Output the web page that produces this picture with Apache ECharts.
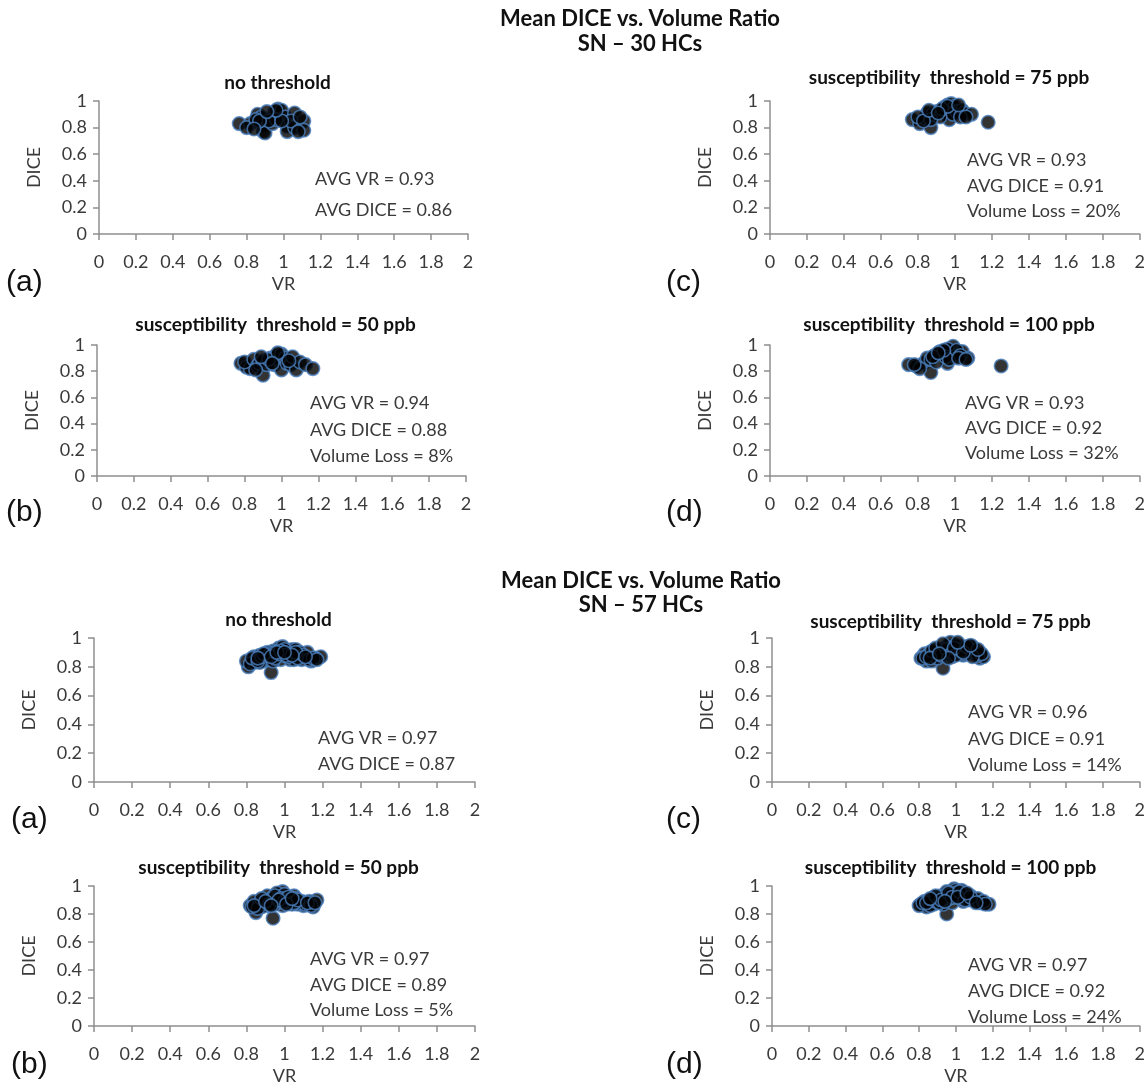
<!DOCTYPE html>
<html>
<head>
<meta charset="utf-8">
<script src="https://cdn.jsdelivr.net/npm/echarts@6/dist/echarts.min.js"></script>
<style>
html,body{margin:0;padding:0;background:#fff;}
#chart{width:1148px;height:1086px;}
</style>
</head>
<body>
<div id="chart"></div>
<script>
// ---------- DATA ----------
const headerLines30 = ["Mean DICE vs. Volume Ratio", "SN \u2013 30 HCs"];
const headerLines57 = ["Mean DICE vs. Volume Ratio", "SN \u2013 57 HCs"];
const panelTitles = ["no threshold", "susceptibility  threshold = 50 ppb", "susceptibility  threshold = 75 ppb", "susceptibility  threshold = 100 ppb"];
const panelLetters = ["(a)", "(b)", "(c)", "(d)"];
const xTickLabels = ["0","0.2","0.4","0.6","0.8","1","1.2","1.4","1.6","1.8","2"];
const yTickLabels = ["0","0.2","0.4","0.6","0.8","1"];

// SN - 30 HCs
const vr30_none = [0.76,0.82,0.80,0.86,0.88,0.89,0.89,0.90,0.94,0.95,0.97,0.99,1.01,1.02,1.02,1.06,1.06,1.11,1.11,1.04,0.96,0.92,0.85,0.87,0.99,1.09,0.84,0.96,1.08,0.91];
const dice30_none = [0.83,0.83,0.80,0.90,0.88,0.82,0.77,0.76,0.83,0.91,0.94,0.93,0.88,0.81,0.77,0.91,0.80,0.85,0.78,0.85,0.86,0.85,0.86,0.85,0.85,0.88,0.79,0.93,0.77,0.92];
const vr30_50 = [0.78,0.81,0.83,0.80,0.85,0.87,0.88,0.90,0.90,0.92,0.94,0.96,0.97,0.99,1.00,1.00,1.02,1.03,1.05,1.06,1.08,1.10,1.13,1.17,0.86,0.93,0.98,1.04,0.89,0.95];
const dice30_50 = [0.86,0.83,0.82,0.87,0.89,0.84,0.86,0.77,0.88,0.85,0.90,0.85,0.92,0.88,0.93,0.81,0.90,0.86,0.85,0.91,0.81,0.87,0.85,0.82,0.81,0.89,0.94,0.88,0.91,0.86];
const vr30_75 = [0.77,0.81,0.84,0.87,0.85,0.90,0.94,0.96,0.98,1.00,0.96,0.97,1.01,1.04,1.05,1.09,1.18,0.88,0.92,0.80,0.93,0.99,1.03,0.87,0.83,0.96,1.02,0.86,1.06,0.91];
const dice30_75 = [0.86,0.83,0.87,0.80,0.91,0.92,0.95,0.97,0.98,0.96,0.91,0.86,0.92,0.93,0.91,0.90,0.84,0.90,0.88,0.88,0.94,0.90,0.88,0.86,0.85,0.96,0.97,0.93,0.88,0.91];
const vr30_100 = [0.75,0.79,0.83,0.87,0.89,0.85,0.94,0.96,0.98,0.99,1.02,1.04,1.07,1.25,0.87,0.92,0.96,1.00,0.81,0.90,0.95,0.97,1.01,1.03,0.88,0.78,1.02,0.94,0.91,1.06];
const dice30_100 = [0.85,0.84,0.86,0.79,0.92,0.90,0.92,0.86,0.96,0.99,0.94,0.95,0.90,0.84,0.89,0.95,0.97,0.91,0.82,0.87,0.91,0.89,0.96,0.92,0.91,0.85,0.90,0.96,0.94,0.89];

// SN - 57 HCs
const vr57_none = [0.81,0.80,0.84,0.87,0.89,0.93,0.92,0.96,0.97,0.98,1.01,1.04,1.05,1.09,1.12,1.14,1.19,0.94,0.91,0.85,1.06,0.99,1.03,1.16,0.84,1.05,1.08,0.94,0.87,0.99,0.95,
  0.82,0.83,0.86,0.88,0.90,0.92,0.95,0.97,1.00,1.02,1.03,1.07,1.10,1.13,1.15,1.17,0.89,0.93,0.98,1.01,1.06,1.11,0.86,0.96,1.04,1.00];
const dice57_none = [0.80,0.84,0.87,0.88,0.84,0.76,0.85,0.88,0.93,0.85,0.91,0.92,0.88,0.85,0.90,0.84,0.87,0.91,0.90,0.85,0.92,0.94,0.85,0.86,0.83,0.85,0.90,0.84,0.83,0.88,0.86,
  0.82,0.86,0.84,0.87,0.89,0.88,0.90,0.89,0.92,0.87,0.89,0.86,0.88,0.85,0.86,0.85,0.89,0.87,0.91,0.88,0.90,0.87,0.86,0.90,0.88,0.90];
const vr57_50 = [0.82,0.85,0.86,0.91,0.91,0.94,0.94,0.99,0.99,0.99,1.05,1.02,1.09,1.10,1.15,1.17,0.88,0.96,1.03,0.84,1.07,0.96,
  0.83,0.87,0.89,0.90,0.92,0.93,0.95,0.97,0.98,1.00,1.01,1.03,1.04,1.06,1.08,1.11,1.13,1.14,0.86,0.88,0.92,0.95,0.98,1.00,1.02,1.05,1.07,1.12,0.84,0.90,0.97,1.01,1.04,0.93,1.16];
const dice57_50 = [0.86,0.81,0.88,0.86,0.93,0.77,0.92,0.90,0.86,0.96,0.93,0.89,0.89,0.86,0.85,0.90,0.85,0.88,0.92,0.89,0.87,0.95,
  0.85,0.87,0.90,0.88,0.89,0.91,0.87,0.92,0.89,0.94,0.88,0.90,0.87,0.91,0.88,0.87,0.89,0.86,0.84,0.91,0.87,0.93,0.91,0.89,0.92,0.88,0.90,0.88,0.86,0.89,0.90,0.87,0.91,0.86,0.88];
const vr57_75 = [0.83,0.84,0.89,0.93,0.92,0.98,0.99,1.03,1.09,1.13,1.04,0.95,0.90,0.81,1.00,1.06,1.10,1.15,0.87,0.97,
  0.82,0.85,0.86,0.88,0.90,0.91,0.94,0.96,0.97,1.00,1.01,1.02,1.05,1.07,1.08,1.11,1.12,1.14,0.84,0.87,0.89,0.92,0.95,0.98,1.00,1.03,1.06,1.09,1.12,0.86,0.93,0.99,1.04,1.08,0.96,1.01,0.91];
const dice57_75 = [0.89,0.84,0.87,0.79,0.92,0.87,0.95,0.94,0.94,0.86,0.88,0.94,0.92,0.86,0.92,0.91,0.89,0.87,0.84,0.97,
  0.86,0.88,0.90,0.88,0.86,0.90,0.91,0.89,0.93,0.95,0.90,0.92,0.89,0.93,0.91,0.90,0.88,0.89,0.87,0.91,0.93,0.88,0.92,0.90,0.88,0.91,0.94,0.87,0.92,0.86,0.96,0.93,0.90,0.95,0.86,0.97,0.89];
const vr57_100 = [0.81,0.84,0.88,0.95,0.92,0.98,0.99,1.02,1.03,1.08,1.14,1.18,0.88,0.93,1.04,1.10,0.83,0.95,1.00,
  0.80,0.82,0.85,0.86,0.87,0.89,0.90,0.91,0.93,0.94,0.96,0.97,0.99,1.00,1.01,1.03,1.05,1.06,1.07,1.09,1.11,1.12,1.13,1.15,1.16,0.84,0.89,0.92,0.96,0.98,1.02,1.05,1.08,1.11,0.86,0.94,1.01,1.06];
const dice57_100 = [0.87,0.85,0.87,0.80,0.93,0.88,0.98,0.94,0.97,0.93,0.88,0.87,0.92,0.87,0.89,0.90,0.89,0.96,0.97,
  0.86,0.88,0.89,0.86,0.90,0.89,0.91,0.88,0.90,0.93,0.91,0.94,0.92,0.95,0.93,0.91,0.94,0.92,0.90,0.91,0.89,0.91,0.88,0.89,0.87,0.88,0.93,0.90,0.95,0.92,0.96,0.90,0.92,0.88,0.91,0.89,0.92,0.95];

// annotation texts
const notes30_none = ["AVG VR = 0.93", "AVG DICE = 0.86"];
const notes30_50 = ["AVG VR = 0.94", "AVG DICE = 0.88", "Volume Loss = 8%"];
const notes30_75 = ["AVG VR = 0.93", "AVG DICE = 0.91", "Volume Loss = 20%"];
const notes30_100 = ["AVG VR = 0.93", "AVG DICE = 0.92", "Volume Loss = 32%"];
const notes57_none = ["AVG VR = 0.97", "AVG DICE = 0.87"];
const notes57_50 = ["AVG VR = 0.97", "AVG DICE = 0.89", "Volume Loss = 5%"];
const notes57_75 = ["AVG VR = 0.96", "AVG DICE = 0.91", "Volume Loss = 14%"];
const notes57_100 = ["AVG VR = 0.97", "AVG DICE = 0.92", "Volume Loss = 24%"];

// ---------- LAYOUT ----------
const FONT = 'Lato, "Open Sans", sans-serif';
const panels = [
  {vr: vr30_none, dice: dice30_none, title: panelTitles[0], letter: panelLetters[0], notes: notes30_none,
   g: {l: 99, t: 101, w: 369, h: 133}, titleY: 83, noteX: 315, noteY: [179, 210], letterXY: [6, 283]},
  {vr: vr30_50, dice: dice30_50, title: panelTitles[1], letter: panelLetters[1], notes: notes30_50,
   g: {l: 97, t: 345, w: 369, h: 131}, titleY: 325, noteX: 310, noteY: [403, 430, 456], letterXY: [6, 513]},
  {vr: vr30_75, dice: dice30_75, title: panelTitles[2], letter: panelLetters[2], notes: notes30_75,
   g: {l: 770, t: 101, w: 370, h: 133}, titleY: 78, noteX: 967, noteY: [160, 186, 211], letterXY: [666, 283]},
  {vr: vr30_100, dice: dice30_100, title: panelTitles[3], letter: panelLetters[3], notes: notes30_100,
   g: {l: 770, t: 345, w: 370, h: 131}, titleY: 325, noteX: 965, noteY: [403, 428, 453], letterXY: [666, 513]},
  {vr: vr57_none, dice: dice57_none, title: panelTitles[0], letter: panelLetters[0], notes: notes57_none,
   g: {l: 94, t: 638, w: 381, h: 144}, titleY: 620, noteX: 318, noteY: [738, 764], letterXY: [11, 820]},
  {vr: vr57_50, dice: dice57_50, title: panelTitles[1], letter: panelLetters[1], notes: notes57_50,
   g: {l: 94, t: 886, w: 381, h: 145}, titleY: 868, noteX: 310, noteY: [959, 985, 1010], letterXY: [11, 1065]},
  {vr: vr57_75, dice: dice57_75, title: panelTitles[2], letter: panelLetters[2], notes: notes57_75,
   g: {l: 772, t: 638, w: 369, h: 144}, titleY: 622, noteX: 968, noteY: [712, 739, 765], letterXY: [666, 820]},
  {vr: vr57_100, dice: dice57_100, title: panelTitles[3], letter: panelLetters[3], notes: notes57_100,
   g: {l: 772, t: 886, w: 369, h: 145}, titleY: 868, noteX: 968, noteY: [965, 991, 1017], letterXY: [666, 1065]}
];

const axisGray = '#8f8f8f';
const labelColor = '#3a3a3a';

const grids = [], xAxes = [], yAxes = [], series = [], graphics = [];

function txt(x, y, text, size, weight, align, color, family) {
  graphics.push({type: 'text', x: x, y: y, silent: true,
    style: {text: text, fontSize: size, fontWeight: weight || 'normal', fontFamily: family || FONT,
            fill: color || '#000', align: align || 'left', verticalAlign: 'middle'}});
}

panels.forEach((p, i) => {
  grids.push({left: p.g.l, top: p.g.t, width: p.g.w, height: p.g.h, containLabel: false});
  xAxes.push({
    type: 'value', gridIndex: i, min: 0, max: 2, interval: 0.2,
    name: 'VR', nameLocation: 'middle', nameGap: 41,
    nameTextStyle: {fontFamily: FONT, fontSize: 18, color: labelColor},
    axisLine: {show: true, onZero: false, lineStyle: {color: axisGray, width: 1.5}},
    axisTick: {show: true, length: 6, lineStyle: {color: axisGray, width: 1.5}},
    splitLine: {show: false},
    axisLabel: {margin: 19, fontFamily: FONT, fontSize: 18, color: labelColor,
      formatter: (v) => xTickLabels[Math.round(v / 0.2)]}
  });
  yAxes.push({
    type: 'value', gridIndex: i, min: 0, max: 1, interval: 0.2,
    name: 'DICE', nameLocation: 'middle', nameGap: 56, nameRotate: 90,
    nameTextStyle: {fontFamily: FONT, fontSize: 18, color: labelColor},
    axisLine: {show: true, onZero: false, lineStyle: {color: axisGray, width: 1.5}},
    axisTick: {show: true, length: 6, lineStyle: {color: axisGray, width: 1.5}},
    splitLine: {show: false},
    axisLabel: {margin: 12, fontFamily: FONT, fontSize: 18, color: labelColor,
      formatter: (v) => yTickLabels[Math.round(v / 0.2)]}
  });
  series.push({
    type: 'scatter', xAxisIndex: i, yAxisIndex: i,
    data: p.vr.map((v, k) => [v, p.dice[k]]),
    symbol: 'circle', symbolSize: 13.5,
    itemStyle: {color: '#000000', borderColor: '#4a7ebb', borderWidth: 1.6},
    silent: true, animation: false
  });
  txt(p.g.l + p.g.w / 2 - 6, p.titleY, p.title, 19, 'bold', 'center', '#111');
  p.notes.forEach((n, k) => txt(p.noteX, p.noteY[k], n, 18, 'normal', 'left', labelColor));
  txt(p.letterXY[0], p.letterXY[1], p.letter, 30, 'normal', 'left', '#111', '"Liberation Sans", Arial, sans-serif');
});

txt(640, 19, headerLines30[0], 22, 'bold', 'center', '#111');
txt(640, 44, headerLines30[1], 22, 'bold', 'center', '#111');
txt(641, 581, headerLines57[0], 22, 'bold', 'center', '#111');
txt(641, 605, headerLines57[1], 22, 'bold', 'center', '#111');

const chart = echarts.init(document.getElementById('chart'), null, {renderer: 'canvas'});
chart.setOption({
  animation: false,
  backgroundColor: '#ffffff',
  grid: grids, xAxis: xAxes, yAxis: yAxes, series: series,
  graphic: graphics
});
</script>
</body>
</html>
